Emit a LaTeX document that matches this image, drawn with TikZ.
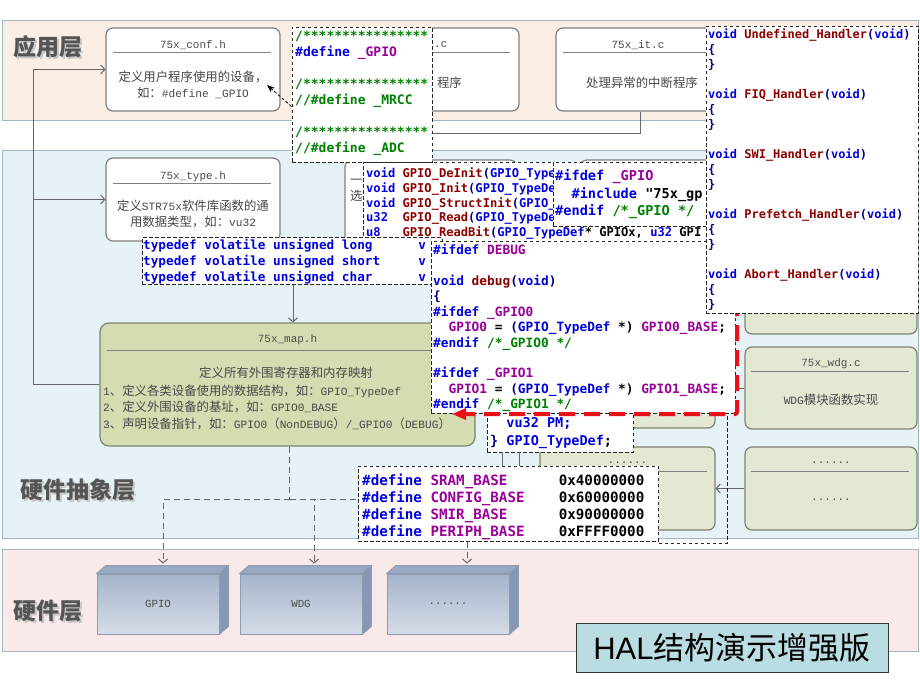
\documentclass[tikz,border=0pt]{standalone}
\usepackage{fontspec}
\setmainfont{Noto Sans CJK SC}
\newfontfamily\latfont{Liberation Mono}[Scale=0.9]
\newfontfamily\codefont{DejaVu Sans Mono}
\newfontfamily\halfont{Liberation Sans}
\usetikzlibrary{arrows.meta,positioning}

\definecolor{appFill}{HTML}{FBEEE4}
\definecolor{halFill}{HTML}{E6F2F6}
\definecolor{hwFill}{HTML}{F9E9E8}
\definecolor{bandLine}{HTML}{9DB9C2}
\definecolor{boxLine}{HTML}{808080}
\definecolor{greenFill}{HTML}{E3E8D3}
\definecolor{mapFill}{HTML}{D4DCB1}
\definecolor{greenLine}{HTML}{7E8270}
\definecolor{cubeTop}{HTML}{A5B5CC}
\definecolor{cubeBot}{HTML}{D5DCE7}
\definecolor{cubeTopFace}{HTML}{97A9C3}
\definecolor{cubeSide}{HTML}{8698B5}
\definecolor{cubeLine}{HTML}{8F9CB0}
\definecolor{titleFill}{HTML}{B9DDE3}
\definecolor{linkGray}{HTML}{666666}
\definecolor{labelGray}{HTML}{555555}
\definecolor{cdBlue}{HTML}{0000DD}
\definecolor{cdRed}{HTML}{8B0000}
\definecolor{cdPurple}{HTML}{990099}
\definecolor{cdGreen}{HTML}{008000}
\definecolor{cdNavy}{HTML}{000080}
\definecolor{arrowRed}{HTML}{E8101A}

\newcommand\lat[1]{{\latfont #1}}
\newcommand\sixdots{......}
\newcommand\ckw[1]{\textcolor{cdBlue}{#1}}
\newcommand\cfn[1]{\textcolor{cdRed}{#1}}
\newcommand\cmac[1]{\textcolor{cdPurple}{#1}}
\newcommand\ccom[1]{\textcolor{cdGreen}{#1}}
\newcommand\cpar[1]{\textcolor{cdNavy}{#1}}

\begin{document}
\begin{tikzpicture}[x=1pt, y=-1pt,
  band/.style={draw=bandLine, line width=1pt, inner sep=0pt, minimum width=916pt},
  layerlabel/.style={inner sep=0pt, text=labelGray, font=\fontsize{23}{23}\selectfont\bfseries},
  layershadow/.style={layerlabel, text=black!22},
  filebox/.style={draw=boxLine, line width=1.2pt, rounded corners=7pt, fill=white,
    inner sep=0pt, minimum width=174pt, minimum height=83pt},
  greenbox/.style={filebox, draw=greenLine, fill=greenFill},
  boxtitle/.style={inner sep=0pt, text=black!70, font=\latfont\fontsize{12.2}{12.2}\selectfont},
  titlerule/.style={draw=boxLine, line width=0.8pt},
  boxtext/.style={inner sep=0pt, text=black!72, align=center, font=\fontsize{12.4}{16}\selectfont},
  popup/.style={draw=black!85, dash pattern=on 3.5pt off 2.5pt, line width=0.8pt, fill=white, inner sep=0pt},
  code/.style={anchor=north west, inner sep=0pt, align=left},
  link/.style={draw=linkGray, line width=1pt, -{Straight Barb[length=4pt,width=9pt]}},
  linkline/.style={draw=linkGray, line width=1pt},
  hwlink/.style={link, dash pattern=on 6pt off 4pt},
  popref/.style={draw=black, line width=0.8pt, dash pattern=on 3pt off 2pt, -{Stealth[length=8pt,width=6pt]}},
  redarrow/.style={draw=arrowRed, line width=4pt, rounded corners=2pt, dash pattern=on 16pt off 9pt,
    -{Triangle[length=14pt,width=11pt]}},
  hwbox/.style={draw=cubeLine, line width=0.8pt, top color=cubeTop, bottom color=cubeBot,
    minimum width=122pt, minimum height=60pt, inner sep=0pt, text=black!70,
    font=\latfont\fontsize{12}{12}\selectfont}
]
  \useasboundingbox (0,0) rectangle (920,690);

  % layers
  \node[band, fill=appFill, minimum height=100pt] (appband) at (460,71) {};
  \node[band, fill=halFill, minimum height=388pt] (halband) at (460,344) {};
  \node[band, fill=hwFill, minimum height=102pt] (hwband) at (460,600) {};
  \node[layershadow] (appshadow) at (49.5,48.5) {应用层};
  \node[layerlabel] (applabel) at (48,47) {应用层};
  \node[layershadow] (halshadow) at (79.5,491.5) {硬件抽象层};
  \node[layerlabel] (hallabel) at (78,490) {硬件抽象层};
  \node[layershadow] (hwshadow) at (49.5,612.5) {硬件层};
  \node[layerlabel] (hwlabel) at (48,611) {硬件层};

  % application layer
  \node[filebox] (conf) at (193,69.5) {};
  \node[boxtitle] (conftitle) at (193,45) {75x\_conf.h};
  \draw[titlerule] (conf.north west) ++(8,25) -- ++(158,0);
  \node[boxtext] (conftext) at (193,84.5) {定义用户程序使用的设备，\\如：\lat{\#define \_GPIO}};

  \node[filebox, minimum width=173pt] (mainc) at (432.5,69.5) {};
  \node[boxtitle, anchor=west] (maintitle) at (434,45) {.c};
  \draw[titlerule] (mainc.north west) ++(8,25) -- ++(157,0);
  \node[boxtext, anchor=east] (maintext) at (462,83) {程序};

  \node[filebox, minimum width=172pt] (itc) at (642,69.5) {};
  \node[boxtitle] (ittitle) at (638,45) {75x\_it.c};
  \draw[titlerule] (itc.north west) ++(8,25) -- ++(156,0);
  \node[boxtext] (ittext) at (642,83) {处理异常的中断程序};
  \coordinate (itbend) at (400,133);
  \draw[linkline] ([xshift=-2pt]itc.south) |- (itbend);

  % hardware abstraction layer
  \node[filebox] (type) at (193,199.5) {};
  \node[boxtitle] (typetitle) at (193,177) {75x\_type.h};
  \draw[titlerule] (type.north west) ++(8,26) -- ++(158,0);
  \node[boxtext] (typetext) at (193,213.5) {定义\lat{STR75x}软件库函数的通\\用数据类型，如：\lat{vu32}};

  \node[filebox, minimum width=172pt, minimum height=102pt] (gpioh) at (431,211) {};
  \node[boxtext, anchor=west] (gpiohtext) at (350,190.5) {一\\选};
  \node[filebox, minimum width=170pt, minimum height=102pt] (gpioc) at (665,211) {};

  \node[greenbox, minimum width=172pt, minimum height=84pt] (rtop) at (831,292) {};
  \node[greenbox, minimum width=172pt, minimum height=82pt] (wdgc) at (831,388) {};
  \node[boxtitle] (wdgtitle) at (831,364) {75x\_wdg.c};
  \draw[titlerule] (wdgc.north west) ++(7,25) -- ++(158,0);
  \node[boxtext] (wdgtext) at (831,400) {\lat{WDG}模块函数实现};
  \node[greenbox, minimum width=172pt] (rdots) at (831,488.5) {};
  \node[boxtitle] (rdotstitle) at (831,463) {\sixdots};
  \draw[titlerule] (rdots.north west) ++(7,25) -- ++(158,0);
  \node[boxtitle] (rdotstext) at (831,500) {\sixdots};

  \node[greenbox, minimum width=175pt] (mtop) at (627.5,386.5) {};
  \node[greenbox, minimum width=175pt] (mdots) at (627.5,488.5) {};
  \node[boxtitle] (mdotstitle) at (627.5,463) {\sixdots};
  \draw[titlerule] (mdots.north west) ++(7,25) -- ++(161,0);

  \node[filebox, fill=mapFill, draw=greenLine, minimum width=375pt, minimum height=123pt,
    rounded corners=9pt] (map) at (287.5,384.5) {};
  \node[boxtitle] (maptitle) at (287.5,340) {75x\_map.h};
  \draw[titlerule] (map.north west) ++(8,28) -- ++(359,0);
  \node[boxtext] (maptext) at (286,373) {定义所有外围寄存器和内存映射};
  \node[boxtext, align=left, anchor=west, font=\fontsize{12.4}{16.5}\selectfont] (maplist) at (103,407)
    {\lat{1}、定义各类设备使用的数据结构，如：\lat{GPIO\_TypeDef}\\
     \lat{2}、定义外围设备的基址，如：\lat{GPIO0\_BASE}\\
     \lat{3}、声明设备指针，如：\lat{GPIO0}（\lat{NonDEBUG}）\lat{/\_GPIO0}（\lat{DEBUG}）};

  % includes
  \coordinate (incbus) at (33,0);
  \draw[link] (map.west) -- (map.west -| incbus) |- (conf.west);
  \draw[link] (type.west -| incbus) -- (type.west);
  \coordinate (typedown) at (293,270);
  \draw[link] (typedown) -- (typedown |- map.north);
  \draw[link] (rdots.west) -- (mdots.east);
  \draw[linkline] (wdgc.west) -- ++(-20,0);

  % hardware layer
  \foreach \hw/\cx/\lbl in {gpio/158/GPIO, wdg/301/WDG, hwmore/448/\sixdots}{
    \node[hwbox] (\hw) at (\cx,604) {\lbl};
    \filldraw[draw=cubeLine, fill=cubeTopFace, line width=0.8pt] (\hw.north west) -- ++(9,-8)
      -- ([shift={(9,-8)}]\hw.north east) -- (\hw.north east) -- cycle;
    \filldraw[draw=cubeLine, fill=cubeSide, line width=0.8pt] (\hw.north east) -- ++(9,-8)
      -- ([shift={(9,-8)}]\hw.south east) -- (\hw.south east) -- cycle;
  }
  \draw[linkline, dash pattern=on 6pt off 4pt] ([xshift=2pt]map.south) -- ++(0,53) coordinate (busmid);
  \draw[hwlink] (busmid) -| ([shift={(5,-10)}]gpio.north);
  \draw[hwlink] (busmid) -| ([shift={(13,-10)}]wdg.north);
  \draw[hwlink] (busmid) -| ([shift={(19,-10)}]hwmore.north);

  % code pop-ups
  \node[popup, minimum width=345pt, minimum height=80pt] (gpiopop) at (535.5,202) {};
  \node[code, font=\codefont\bfseries\fontsize{12.1}{14.8}\selectfont] (gpiocode) at (366,167.5) {%
    \ckw{void}~\cfn{GPIO\_DeInit}\cpar{(}\ckw{GPIO\_Type}\\
    \ckw{void}~\cfn{GPIO\_Init}\cpar{(}\ckw{GPIO\_TypeDe}\\
    \ckw{void}~\cfn{GPIO\_StructInit}\cpar{(}\ckw{GPIO\_}\\
    \ckw{u32}~~\cfn{GPIO\_Read}\cpar{(}\ckw{GPIO\_TypeDe}\\
    \ckw{u8}~~~\cfn{GPIO\_ReadBit}\cpar{(}\ckw{GPIO\_TypeDef}*~GPIOx,~\ckw{u32}~GPI};

  \node[popup, minimum width=157pt, minimum height=64pt] (ifdefpop) at (631.5,194) {};
  \node[code, font=\codefont\bfseries\fontsize{13.6}{17.5}\selectfont] (ifdefcode) at (555,169.6) {%
    \ckw{\#ifdef}~\cmac{\_GPIO}\\
    ~~\ckw{\#include}~\symbol{34}75x\_gp\\
    \ckw{\#endif}~\ccom{/*\_GPIO~*/}};

  \node[popup, minimum width=300pt, minimum height=46.5pt] (typedefpop) at (292,260.75) {};
  \node[code, font=\codefont\bfseries\fontsize{12.7}{16}\selectfont] (typedefcode) at (143,239) {%
    \ckw{typedef~volatile~unsigned~long~~~~~~v}\\
    \ckw{typedef~volatile~unsigned~short~~~~~v}\\
    \ckw{typedef~volatile~unsigned~char~~~~~~v}};

  \node[popup, minimum width=146pt, minimum height=72pt] (tailpop) at (560,416) {};
  \node[code, font=\codefont\bfseries\fontsize{13.5}{18}\selectfont] (tailcode) at (490,417) {%
    ~~\ckw{vu32~PM;}\\
    \cpar{\}}~\ckw{GPIO\_TypeDef};};
  \draw[linkline] (tailpop.south west) ++(16,0) -- ++(0,14);
  \draw[linkline] (tailpop.south west) ++(33,0) -- ++(0,14);

  \node[popup, minimum width=304pt, minimum height=172pt] (debugpop) at (583,327) {};
  \node[code, font=\codefont\bfseries\fontsize{12.8}{15.4}\selectfont] (debugcode) at (433,244) {%
    \ckw{\#ifdef}~\cmac{DEBUG}\\
    \mbox{}\\
    \ckw{void}~\cfn{debug}\cpar{(}\ckw{void}\cpar{)}\\
    \cpar{\{}\\
    \ckw{\#ifdef}~\cmac{\_GPIO0}\\
    ~~\cmac{GPIO0}~=~\cpar{(}\ckw{GPIO\_TypeDef}~*)~\cmac{GPIO0\_BASE};\\
    \ckw{\#endif}~\ccom{/*\_GPIO0~*/}\\
    \mbox{}\\
    \ckw{\#ifdef}~\cmac{\_GPIO1}\\
    ~~\cmac{GPIO1}~=~\cpar{(}\ckw{GPIO\_TypeDef}~*)~\cmac{GPIO1\_BASE};\\
    \ckw{\#endif}~\ccom{/*\_GPIO1~*/}};

  \node[popup, minimum width=300pt, minimum height=75pt] (definepop) at (508,503.5) {};
  \node[code, font=\codefont\bfseries\fontsize{14.2}{17}\selectfont] (definecode) at (362,473.3) {%
    \ckw{\#define}~\cmac{SRAM\_BASE}~~~~~~0x40000000\\
    \ckw{\#define}~\cmac{CONFIG\_BASE}~~~~0x60000000\\
    \ckw{\#define}~\cmac{SMIR\_BASE}~~~~~~0x90000000\\
    \ckw{\#define}~\cmac{PERIPH\_BASE}~~~~0xFFFF0000};
  \coordinate (frameturn) at (727,543);
  \draw[black!85, dash pattern=on 3.5pt off 2.5pt, line width=0.8pt]
    (727,416) -- (frameturn) -- (definepop.south east |- frameturn);

  % debug pointer arrow
  \coordinate (redtop) at (737,300);
  \coordinate (redtip) at (452,414);
  \draw[redarrow] (redtop) |- (redtip);

  \node[popup, minimum width=212pt, minimum height=287pt] (handlerpop) at (812,169.5) {};
  \node[code, font=\codefont\bfseries\fontsize{12}{15}\selectfont] (handlercode) at (708,28.2) {%
    \ckw{void}~\cfn{Undefined\_Handler}\cpar{(}\ckw{void}\cpar{)}\\
    \cpar{\{}\\ \cpar{\}}\\ \mbox{}\\
    \ckw{void}~\cfn{FIQ\_Handler}\cpar{(}\ckw{void}\cpar{)}\\
    \cpar{\{}\\ \cpar{\}}\\ \mbox{}\\
    \ckw{void}~\cfn{SWI\_Handler}\cpar{(}\ckw{void}\cpar{)}\\
    \cpar{\{}\\ \cpar{\}}\\ \mbox{}\\
    \ckw{void}~\cfn{Prefetch\_Handler}\cpar{(}\ckw{void}\cpar{)}\\
    \cpar{\{}\\ \cpar{\}}\\ \mbox{}\\
    \ckw{void}~\cfn{Abort\_Handler}\cpar{(}\ckw{void}\cpar{)}\\
    \cpar{\{}\\ \cpar{\}}};

  \node[popup, minimum width=140pt, minimum height=135pt] (confpop) at (362,94.5) {};
  \node[code, font=\codefont\bfseries\fontsize{13}{16}\selectfont] (confcode) at (295,30.5) {%
    \ccom{/****************}\\
    \ckw{\#define}~\cmac{\_GPIO}\\
    \mbox{}\\
    \ccom{/****************}\\
    \ccom{//\#define~\_MRCC}\\
    \mbox{}\\
    \ccom{/****************}\\
    \ccom{//\#define~\_ADC}};
  \coordinate (confref) at (267,85);
  \draw[popref] ([yshift=-12pt]confpop.west) -- (confref);

  % caption
  \node[draw=black!80, line width=1pt, fill=titleFill, minimum width=312pt, minimum height=49pt,
    inner sep=0pt, font=\fontsize{31}{31}\selectfont] (haltitle) at (732,647.5) {{\halfont HAL}结构演示增强版};
\end{tikzpicture}
\end{document}
